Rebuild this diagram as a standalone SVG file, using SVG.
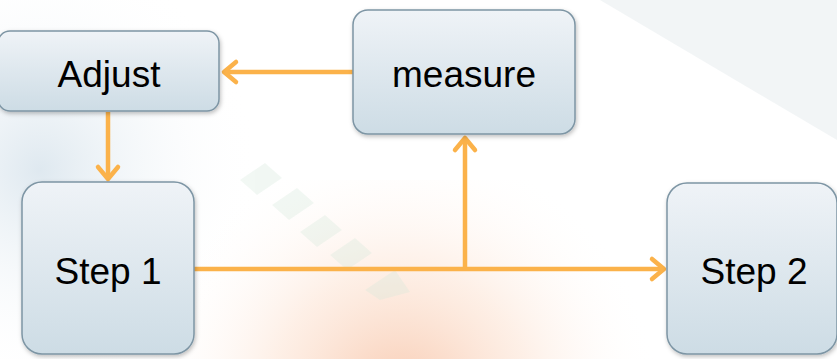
<svg xmlns="http://www.w3.org/2000/svg" width="837" height="359" viewBox="0 0 837 359">
<defs>
<style>
.box{fill:url(#boxg);stroke:#7d95a4;stroke-width:1.5;filter:url(#sh)}
.lbl{font-family:"Liberation Sans",Arial,sans-serif;font-size:37px;fill:#000;text-anchor:middle}
.con{fill:none;stroke:#fbb24a;stroke-width:4.5}
.head{fill:none;stroke:#fbb24a;stroke-width:4.5;stroke-linecap:round;stroke-linejoin:round}
</style>
<linearGradient id="boxg" x1="0" y1="0" x2="0" y2="1">
<stop offset="0" stop-color="#eff3f7"/>
<stop offset="1" stop-color="#cddce5"/>
</linearGradient>
<radialGradient id="peach" gradientUnits="userSpaceOnUse" cx="400" cy="400" r="260">
<stop offset="0" stop-color="#f3a57a" stop-opacity="0.6"/>
<stop offset="0.5" stop-color="#fbd2b8" stop-opacity="0.35"/>
<stop offset="1" stop-color="#ffffff" stop-opacity="0"/>
</radialGradient>
<radialGradient id="bluish" gradientUnits="userSpaceOnUse" cx="40" cy="170" r="220">
<stop offset="0" stop-color="#dbe6ee" stop-opacity="0.9"/>
<stop offset="1" stop-color="#ffffff" stop-opacity="0"/>
</radialGradient>
<filter id="sh" x="-20%" y="-20%" width="140%" height="140%">
<feDropShadow dx="1" dy="2" stdDeviation="2" flood-color="#000" flood-opacity="0.25"/>
</filter>
</defs>
<g id="background">
<rect width="837" height="359" fill="#ffffff"/>
<rect x="0" y="0" width="420" height="359" fill="url(#bluish)"/>
<polygon points="600,0 837,0 837,140" fill="#e9eef0" opacity="0.6"/>
<rect x="0" y="180" width="837" height="179" fill="url(#peach)"/>
<g fill="#d3e8da" opacity="0.3">
<polygon points="240,180 265,163 282,178 257,195"/>
<polygon points="272,205 297,188 314,203 289,220"/>
<polygon points="300,232 325,215 342,230 317,247"/>
<polygon points="330,255 355,238 372,253 347,270"/>
<polygon points="365,290 395,270 410,292 380,300"/>
</g>
</g>
<g id="connectors">
<line class="con" x1="353" y1="72" x2="224" y2="72"/>
<polyline class="head" points="236,62 224,72 236,82"/>
<line class="con" x1="108" y1="112" x2="108" y2="179"/>
<polyline class="head" points="98,167 108,179 118,167"/>
<line class="con" x1="194" y1="269" x2="664" y2="269"/>
<polyline class="head" points="652,259 664,269 652,279"/>
<line class="con" x1="465" y1="269" x2="465" y2="138"/>
<polyline class="head" points="455,150 465,138 475,150"/>
</g>
<g id="adjust">
<rect class="box" x="-2" y="31" width="221" height="80" rx="12"/>
<text class="lbl" x="109" y="87">Adjust</text>
</g>
<g id="measure">
<rect class="box" x="353" y="10" width="222" height="124" rx="15"/>
<text class="lbl" x="464" y="87">measure</text>
</g>
<g id="step1">
<rect class="box" x="22" y="182" width="172" height="172" rx="20"/>
<text class="lbl" x="108" y="284">Step 1</text>
</g>
<g id="step2">
<rect class="box" x="667" y="183" width="170" height="171" rx="20"/>
<text class="lbl" x="754" y="284">Step 2</text>
</g>
</svg>
